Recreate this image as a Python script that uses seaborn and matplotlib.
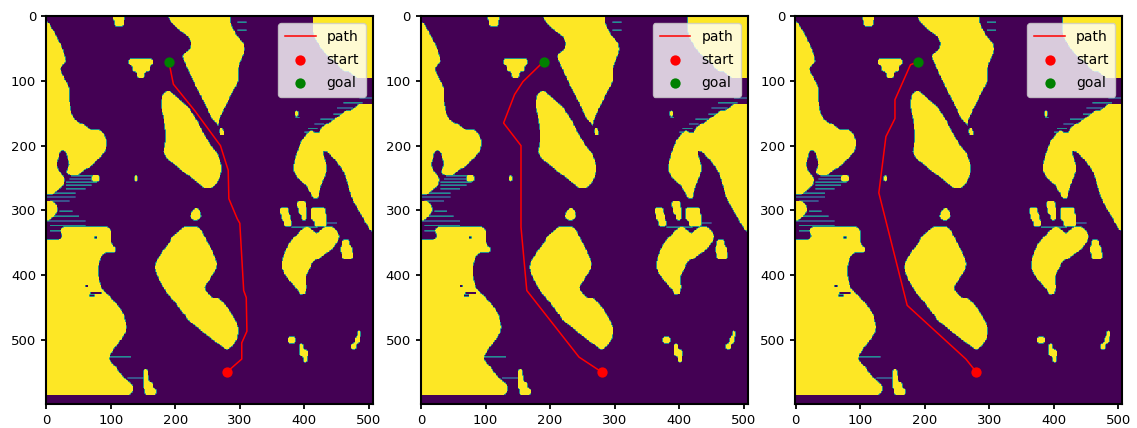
import numpy as np
import pandas as pd
import matplotlib
matplotlib.use('Agg')
import matplotlib.pyplot as plt
import seaborn as sns

# land on the map, every entry is (row, first col, last col), rows read every 10 px
north_land = [(0,188,285),(10,194,285),(20,205,290),(30,218,295),(40,225,305),(50,222,307),(60,210,305),(70,214,300),
              (80,218,297),(90,223,297),(100,228,297),(110,232,292),(120,238,286),(130,243,282),(140,248,276),
              (150,252,272),(160,258,267),(170,266,272),(180,268,276),(190,272,276)]
corner_land = [(0,413,507),(10,413,507),(20,413,507),(30,414,507),(40,420,507),(50,426,507),(60,435,507),(70,448,507),
               (80,456,507),(90,475,507)]
west_strip = [(10,0,3),(20,0,10),(30,0,15),(40,0,20),(50,0,25),(60,0,28),(70,0,30),(80,0,20),(90,0,25),(100,0,30),
              (110,0,35),(120,0,35),(130,0,35),(140,0,37),(150,0,38),(160,0,45),(170,0,62),(180,0,88),(190,0,93),
              (200,0,93),(210,0,20),(210,30,90),(220,0,18),(220,33,80),(230,0,15),(230,35,70),(240,0,20),(240,30,55),
              (250,0,28),(260,0,27),(270,0,15),(290,0,15),(300,0,18),(310,0,10)]
west_land = [(330,20,100),(340,25,100),(350,0,100),(360,0,107),(370,0,85),(380,0,81),(390,0,80),(400,0,80),(410,0,82),
             (420,0,85),(430,0,95),(440,0,105),(450,0,113),(460,0,120),(470,0,122),(480,0,124),(490,0,122),
             (500,0,115),(510,0,107),(520,0,100),(530,0,96),(540,0,106),(550,0,113),(560,0,122),(570,0,134),(580,0,134)]
mid_island = [(120,180,197),(130,178,208),(140,178,220),(150,180,226),(160,182,233),(170,183,238),(180,184,243),
              (190,184,249),(200,183,255),(210,181,264),(220,187,268),(230,200,271),(240,212,271),(250,226,268),(260,238,262)]
south_island = [(300,226,238),(310,222,240),(330,207,240),(340,195,245),(350,190,250),(360,182,256),(370,175,260),
                (380,169,264),(390,168,263),(400,171,257),(410,176,250),(420,182,244),(430,188,252),(440,198,272),
                (450,205,281),(460,213,287),(470,220,293),(480,233,297),(490,245,297),(500,258,295),(510,272,287)]
east_island = [(180,405,416),(190,396,418),(200,392,422),(210,388,428),(220,385,431),(230,383,434),(240,383,434),
               (250,390,430),(260,401,426),(270,408,423),(280,413,421)]
east_land = [(140,478,507),(150,458,507),(160,444,507),(170,428,507),(180,421,507),(190,420,507),(200,426,507),(210,436,507),
             (220,446,507),(230,454,507),(240,461,507),(250,464,507),(260,467,507),(270,470,507),(280,473,507),(290,478,507),
             (300,484,507),(310,490,507),(320,495,507),(330,502,507)]
se_island = [(330,395,412),(330,425,449),(340,385,455),(350,376,450),(360,371,442),(370,367,428),(380,365,412),(390,365,408),
             (400,370,402),(410,378,402),(420,387,403),(430,394,400)]
small_land = [(0,103,121),(10,105,120),(70,127,165),(80,133,160),(90,140,152),(250,136,141),(150,385,390),
              (290,388,402),(300,362,375),(300,390,403),(300,410,432),(310,364,378),(310,395,403),(310,410,434),
              (320,368,380),(320,415,434),(350,458,470),(360,456,474),(370,458,475),
              (500,374,386),(510,392,398),(520,392,405),(530,398,404),(490,482,487),(500,478,486),(510,472,480),
              (550,150,157),(560,150,158),(570,150,165),(580,152,170),(250,70,82),(360,95,107)]
# thin shoals, the teal scratches along the coast
shoals = [(245,38,75),(250,35,75),(255,30,78),(260,30,70),(265,30,60),(272,0,45),(278,0,45),(284,5,35),(300,20,40),
          (308,0,50),(315,0,60),(322,5,60),(330,5,30),(125,485,507),(132,460,490),(140,450,475),(150,445,465),(158,425,445),
          (165,415,430),(172,405,420),(178,400,415),(325,380,420),(318,425,450),(525,93,131),(558,125,150),(20,296,310),
          (8,296,310),(155,386,392)]
# dark slits cut into the west coast
holes = [(426,68,85),(430,66,74),(415,60,64),(340,74,78)]

start = (280, 550)
goal = (190, 70)
path_x = [[190,197,231,270,282,283,296,300,306,310,311,303,303,280],
          [190,158,145,128,155,155,164,245,280],
          [190,178,154,154,140,129,173,264,280]]
path_y = [[70,105,147,200,238,282,313,320,424,435,487,505,530,550],
          [70,101,121,165,200,326,424,527,550],
          [70,75,129,158,186,273,447,530,550]]

H, W = 600, 507


def paint(parts):
    m = np.zeros((H, W))
    for part in parts:
        for y, a, b in part:
            m[max(y-5, 0):y+5, a:b] = 1
    return m


def blur(m, k):
    # box filter on both axes
    w = np.ones(k) / k
    m = np.pad(m, k, mode='edge')
    m = np.apply_along_axis(lambda r: np.convolve(r, w, mode='same'), 0, m)
    m = np.apply_along_axis(lambda r: np.convolve(r, w, mode='same'), 1, m)
    return m[k:-k, k:-k]


# round the stair steps off the coast, the small islands get a smaller filter so they survive
big = paint([north_land, corner_land, west_strip, west_land, mid_island, south_island, east_island, east_land, se_island])
land = np.maximum(blur(big, 13) > 0.5, blur(paint([small_land]), 5) > 0.5).astype(float)
land[585:] = 0
for y, a, b in holes:
    land[y:y+3, a:b] = 0
for y, a, b in shoals:
    land[y:y+2, a:b] = np.maximum(land[y:y+2, a:b], 0.5)
land = blur(land, 2)

fig = plt.figure(figsize=(11.37, 4.28), dpi=100)
lefts = [46, 420.7, 795.3]
for i in range(3):
    ax = fig.add_axes([lefts[i]/1137, 1-404/428, 327/1137, 388/428])
    sns.heatmap(land, ax=ax, cmap='viridis', vmin=0, vmax=1, cbar=False, xticklabels=False, yticklabels=False)
    df = pd.DataFrame({'x': path_x[i], 'y': path_y[i]})
    sns.lineplot(data=df, x='x', y='y', ax=ax, sort=False, estimator=None, color='red', lw=1.1, label='path')
    sns.scatterplot(x=[start[0]], y=[start[1]], ax=ax, color='red', s=55, linewidth=0, label='start', zorder=4)
    sns.scatterplot(x=[goal[0]], y=[goal[1]], ax=ax, color='green', s=55, linewidth=0, label='goal', zorder=4)
    ax.set_xlim(-0.5, W-0.5)
    ax.set_ylim(H-0.5, -0.5)
    ax.set_xlabel('')
    ax.set_ylabel('')
    ax.set_xticks(np.arange(0, 501, 100), labels=[str(v) for v in range(0, 501, 100)])
    ax.set_yticks(np.arange(0, 501, 100), labels=[str(v) for v in range(0, 501, 100)], rotation=0)
    ax.tick_params(labelsize=9.5, width=1.3, length=3.5, bottom=True, left=True, labelbottom=True, labelleft=True)
    for s in ax.spines.values():
        s.set_visible(True)
        s.set_linewidth(1.5)
    ax.legend(loc='upper right', fontsize=10, framealpha=0.8, handlelength=2.2, labelspacing=0.65, borderpad=0.5)

plt.savefig('out.png', dpi=100)
